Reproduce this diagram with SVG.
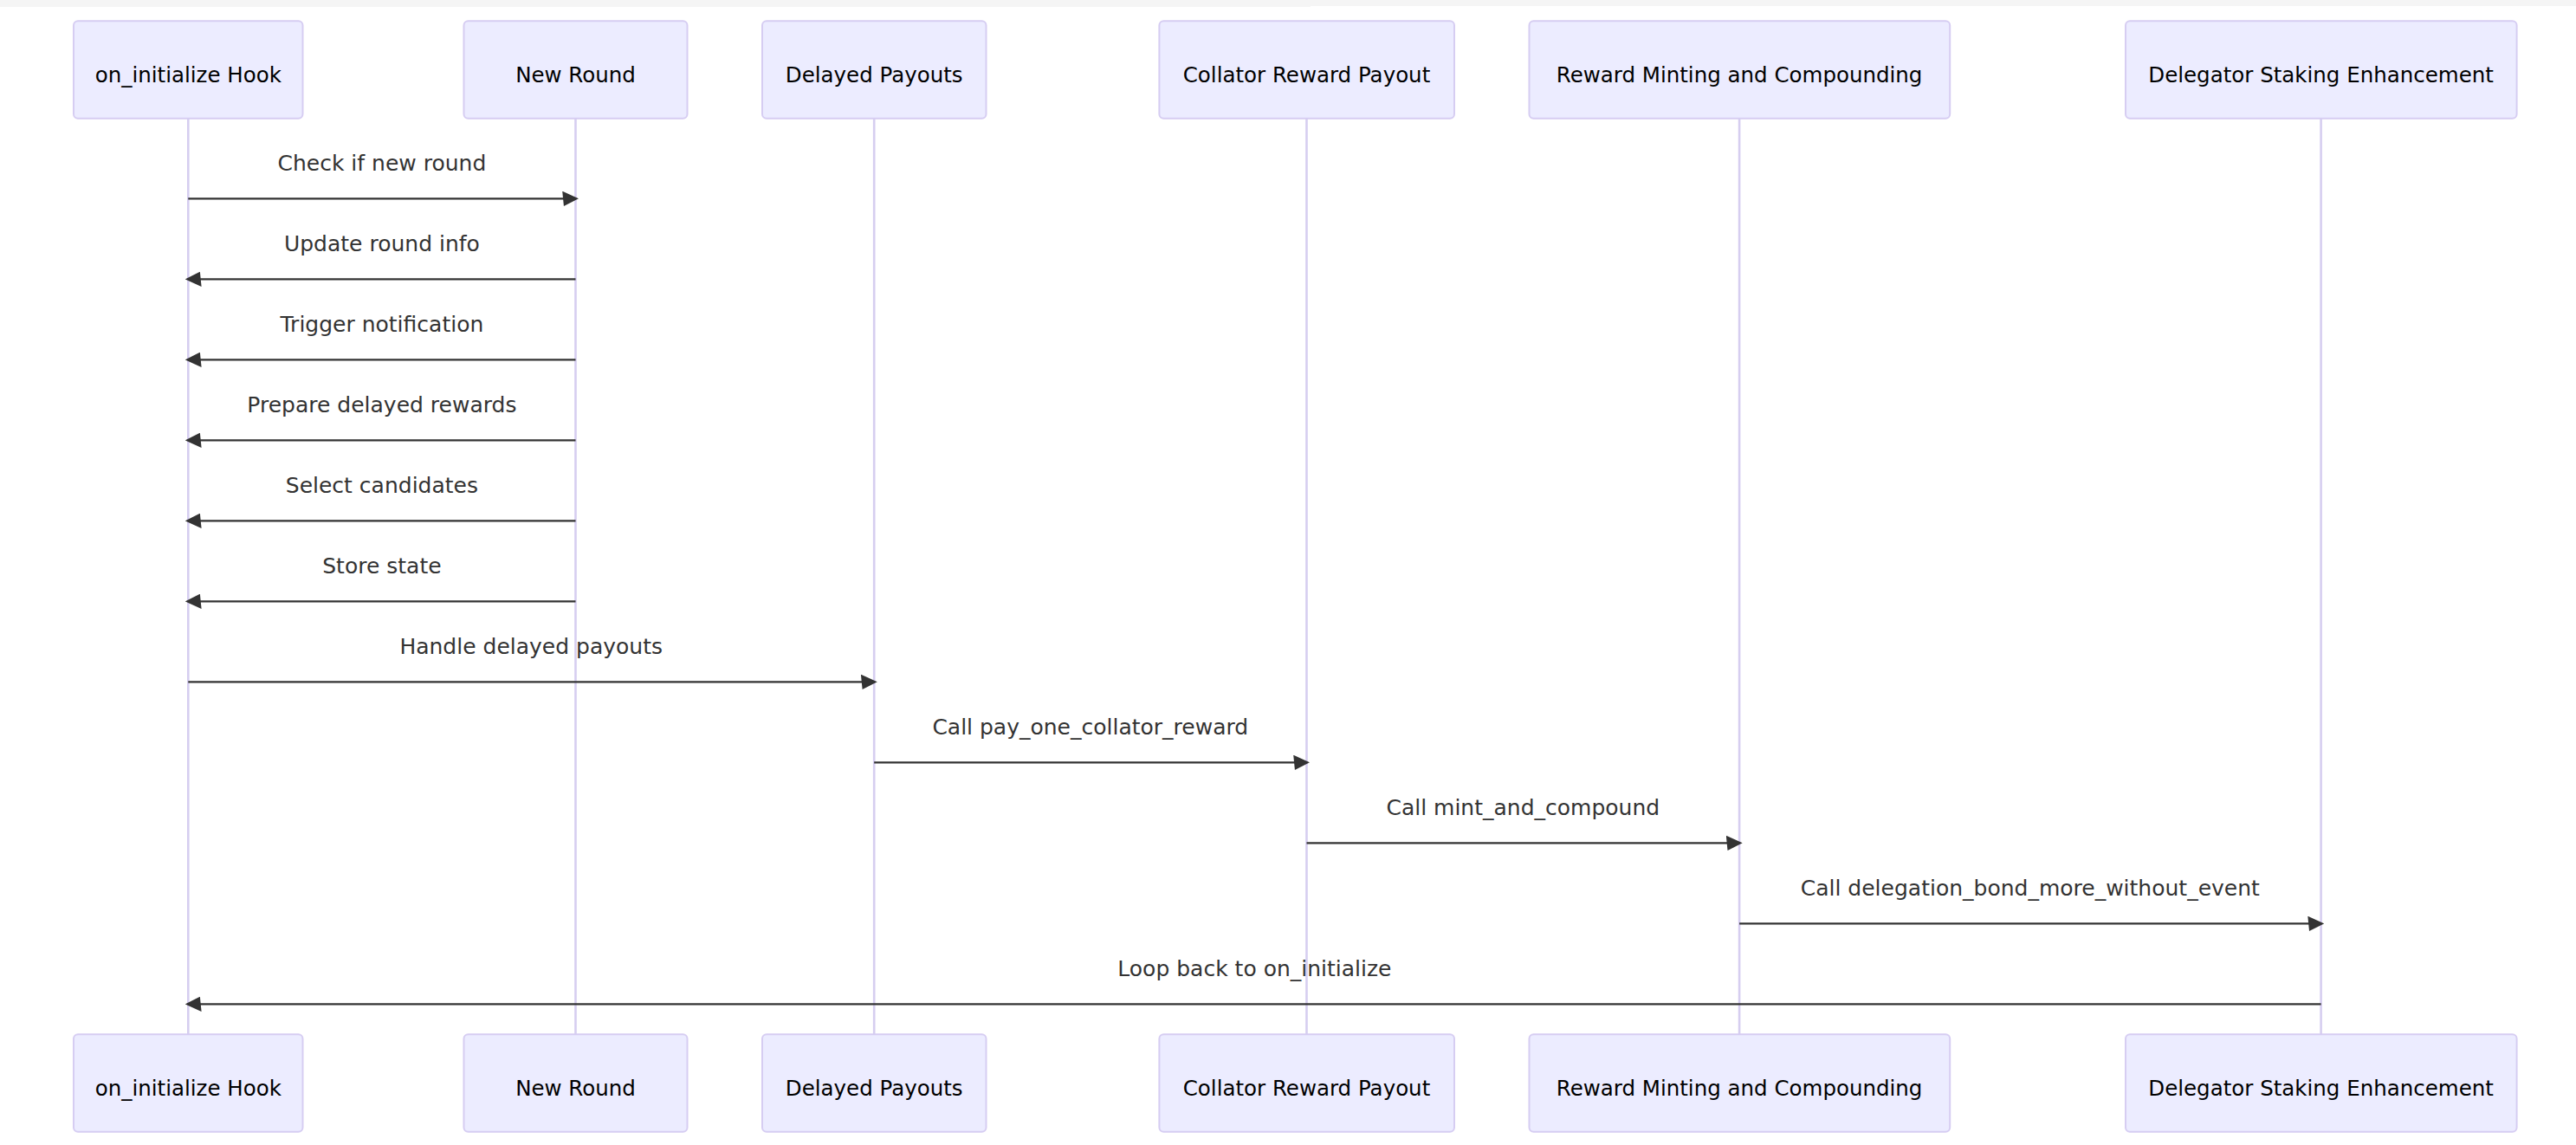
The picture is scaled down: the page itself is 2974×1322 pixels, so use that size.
<svg xmlns="http://www.w3.org/2000/svg" width="2974" height="1322" viewBox="0 0 2974 1322">
<style>
.actor rect{fill:#ECECFF;stroke:#D6CDF2;stroke-width:2;}
.actor text{font-family:"DejaVu Sans",Verdana,sans-serif;font-size:24.5px;fill:#000;text-anchor:middle;}
.life{stroke:#D6CEF0;stroke-width:2.6;fill:none;}
.msg line{stroke:#333;stroke-width:2.2;marker-end:url(#arr);}
.msg text{font-family:"DejaVu Sans",Verdana,sans-serif;font-size:25px;fill:#333;text-anchor:middle;}
</style>
<defs>
<marker id="arr" markerUnits="userSpaceOnUse" viewBox="-1 0 11 10" refX="7.9" refY="5" markerWidth="18.9" markerHeight="17.2" orient="auto">
<path d="M -1 0 L 10 5 L 0 10 z" fill="#333"/>
</marker>
</defs>
<rect x="0" y="0" width="2974" height="1322" fill="#fff"/>
<rect x="0" y="0" width="1513" height="8" fill="#F5F5F5"/>
<rect x="1513" y="0" width="1461" height="7" fill="#F5F5F5"/>
<g id="lifelines">
<line class="life" x1="217.3" y1="136.7" x2="217.3" y2="1194.3"/>
<line class="life" x1="664.5" y1="136.7" x2="664.5" y2="1194.3"/>
<line class="life" x1="1009.2" y1="136.7" x2="1009.2" y2="1194.3"/>
<line class="life" x1="1508.5" y1="136.7" x2="1508.5" y2="1194.3"/>
<line class="life" x1="2008.1" y1="136.7" x2="2008.1" y2="1194.3"/>
<line class="life" x1="2679.6" y1="136.7" x2="2679.6" y2="1194.3"/>
</g>
<g id="hook" class="actor">
<rect x="85" y="24.3" width="264.5" height="112.4" rx="5"/><text x="217.3" y="94.5">on_initialize Hook</text>
<rect x="85" y="1194.3" width="264.5" height="112.4" rx="5"/><text x="217.3" y="1264.5">on_initialize Hook</text>
</g>
<g id="newround" class="actor">
<rect x="535.5" y="24.3" width="258" height="112.4" rx="5"/><text x="664.5" y="94.5">New Round</text>
<rect x="535.5" y="1194.3" width="258" height="112.4" rx="5"/><text x="664.5" y="1264.5">New Round</text>
</g>
<g id="delayed" class="actor">
<rect x="880" y="24.3" width="258.5" height="112.4" rx="5"/><text x="1009.2" y="94.5">Delayed Payouts</text>
<rect x="880" y="1194.3" width="258.5" height="112.4" rx="5"/><text x="1009.2" y="1264.5">Delayed Payouts</text>
</g>
<g id="collator" class="actor">
<rect x="1338.4" y="24.3" width="340.6" height="112.4" rx="5"/><text x="1508.5" y="94.5">Collator Reward Payout</text>
<rect x="1338.4" y="1194.3" width="340.6" height="112.4" rx="5"/><text x="1508.5" y="1264.5">Collator Reward Payout</text>
</g>
<g id="minting" class="actor">
<rect x="1765.5" y="24.3" width="485.7" height="112.4" rx="5"/><text x="2008.1" y="94.5">Reward Minting and Compounding</text>
<rect x="1765.5" y="1194.3" width="485.7" height="112.4" rx="5"/><text x="2008.1" y="1264.5">Reward Minting and Compounding</text>
</g>
<g id="delegator" class="actor">
<rect x="2454" y="24.3" width="451.6" height="112.4" rx="5"/><text x="2679.6" y="94.5">Delegator Staking Enhancement</text>
<rect x="2454" y="1194.3" width="451.6" height="112.4" rx="5"/><text x="2679.6" y="1264.5">Delegator Staking Enhancement</text>
</g>
<g id="connectors" class="msg">
<text x="440.9" y="196.5">Check if new round</text>
<line x1="217.3" y1="229.3" x2="664.5" y2="229.3"/>
<text x="440.9" y="289.5">Update round info</text>
<line x1="664.5" y1="322.3" x2="217.3" y2="322.3"/>
<text x="440.9" y="382.5">Trigger notification</text>
<line x1="664.5" y1="415.3" x2="217.3" y2="415.3"/>
<text x="440.9" y="475.5">Prepare delayed rewards</text>
<line x1="664.5" y1="508.3" x2="217.3" y2="508.3"/>
<text x="440.9" y="568.5">Select candidates</text>
<line x1="664.5" y1="601.3" x2="217.3" y2="601.3"/>
<text x="440.9" y="661.5">Store state</text>
<line x1="664.5" y1="694.3" x2="217.3" y2="694.3"/>
<text x="613.2" y="754.5">Handle delayed payouts</text>
<line x1="217.3" y1="787.3" x2="1009.2" y2="787.3"/>
<text x="1258.8" y="847.5">Call pay_one_collator_reward</text>
<line x1="1009.2" y1="880.3" x2="1508.5" y2="880.3"/>
<text x="1758.3" y="940.5">Call mint_and_compound</text>
<line x1="1508.5" y1="973.3" x2="2008.1" y2="973.3"/>
<text x="2343.8" y="1033.5">Call delegation_bond_more_without_event</text>
<line x1="2008.1" y1="1066.3" x2="2679.6" y2="1066.3"/>
<text x="1448.4" y="1126.5">Loop back to on_initialize</text>
<line x1="2679.6" y1="1159.3" x2="217.3" y2="1159.3"/>
</g>
</svg>
